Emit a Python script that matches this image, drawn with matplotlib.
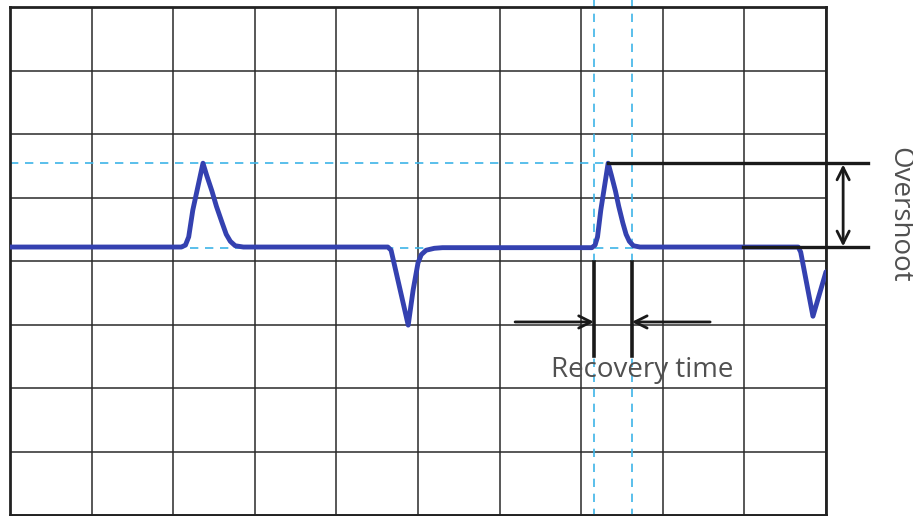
import matplotlib
matplotlib.use('Agg')
import matplotlib.pyplot as plt

# signal trace (grid units: 10 x 8 divisions)
trace_x = [0.0, 2.10, 2.15, 2.19, 2.24, 2.365, 2.41, 2.475, 2.53, 2.60, 2.65, 2.70, 2.76, 2.86,
           4.63, 4.67, 4.88, 4.94, 5.00, 5.04, 5.10, 5.20, 5.30,
           7.13, 7.17, 7.20, 7.24, 7.33, 7.37, 7.42, 7.46, 7.51, 7.55, 7.59, 7.64, 7.72,
           9.66, 9.69, 9.84, 10.0]
trace_y = [4.22, 4.22, 4.25, 4.38, 4.80, 5.54, 5.35, 5.10, 4.86, 4.60, 4.42, 4.31, 4.24, 4.22,
           4.22, 4.17, 2.99, 3.54, 3.97, 4.10, 4.17, 4.20, 4.21,
           4.21, 4.25, 4.38, 4.80, 5.54, 5.35, 5.10, 4.86, 4.60, 4.42, 4.31, 4.24, 4.22,
           4.22, 4.14, 3.13, 3.83]

baseline = 4.21
peak_level = 5.54
peak_x = 7.33
recovery_start = 7.157
recovery_end = 7.62
annot_right = 10.51
overshoot_x = 10.21

n_cols = 10
n_rows = 8

fig = plt.figure(figsize=(9.13, 5.16), dpi=100)
ax = fig.add_axes([10 / 913, 1 / 516, 816 / 913, 508 / 516])
ax.set_xlim(0, n_cols)
ax.set_ylim(0, n_rows)
ax.set_xticks(range(n_cols + 1))
ax.set_yticks(range(n_rows + 1))
ax.tick_params(length=0, labelbottom=False, labelleft=False)
ax.grid(True, color='#2a2a2a', lw=1.1)
ax.set_axisbelow(True)
for s in ax.spines.values():
    s.set_linewidth(2.0)
    s.set_color('#222222')

cyan = '#3db4e8'
ax.plot([0, peak_x], [peak_level, peak_level], color=cyan, lw=1.2, ls=(0, (5, 4)), zorder=2)
ax.plot([0, n_cols], [baseline, baseline], color=cyan, lw=1.2, ls=(0, (5, 4)), zorder=2)
for xv in [recovery_start, recovery_end]:
    ax.plot([xv, xv], [-0.1, n_rows + 0.2], color=cyan, lw=1.2, ls=(0, (5, 4)),
            zorder=2, clip_on=False)

ax.plot(trace_x, trace_y, color='#3441b0', lw=3.5, solid_joinstyle='round',
        solid_capstyle='round', zorder=3)

# overshoot annotation
ax.plot([peak_x, annot_right], [peak_level, peak_level], color='#1a1a1a', lw=2.4,
        clip_on=False, zorder=4)
ax.plot([8.98, annot_right], [baseline + 0.01, baseline + 0.01], color='#1a1a1a', lw=2.4,
        clip_on=False, zorder=4)
ax.annotate('', xy=(overshoot_x, baseline + 0.02), xytext=(overshoot_x, peak_level - 0.02),
            arrowprops=dict(arrowstyle='<->', color='#1a1a1a', lw=2.0,
                            mutation_scale=22, shrinkA=0, shrinkB=0),
            annotation_clip=False, zorder=4)
ax.text(10.9, 4.72, 'Overshoot', rotation=270, ha='center', va='center',
        fontsize=20, family='Open Sans', color='#505050')

# recovery time annotation
for xv in [recovery_start, recovery_end]:
    ax.plot([xv, xv], [2.50, 3.98], color='#1a1a1a', lw=2.6, zorder=4)
ax.annotate('', xy=(recovery_start, 3.04), xytext=(6.19, 3.04),
            arrowprops=dict(arrowstyle='->', color='#1a1a1a', lw=2.0,
                            mutation_scale=22, shrinkA=0, shrinkB=0), zorder=4)
ax.annotate('', xy=(recovery_end, 3.04), xytext=(8.58, 3.04),
            arrowprops=dict(arrowstyle='->', color='#1a1a1a', lw=2.0,
                            mutation_scale=22, shrinkA=0, shrinkB=0), zorder=4)
ax.text(7.745, 2.28, 'Recovery time', ha='center', va='center',
        fontsize=20, family='Open Sans', color='#505050', zorder=5)

fig.savefig('out.png', dpi=100)
